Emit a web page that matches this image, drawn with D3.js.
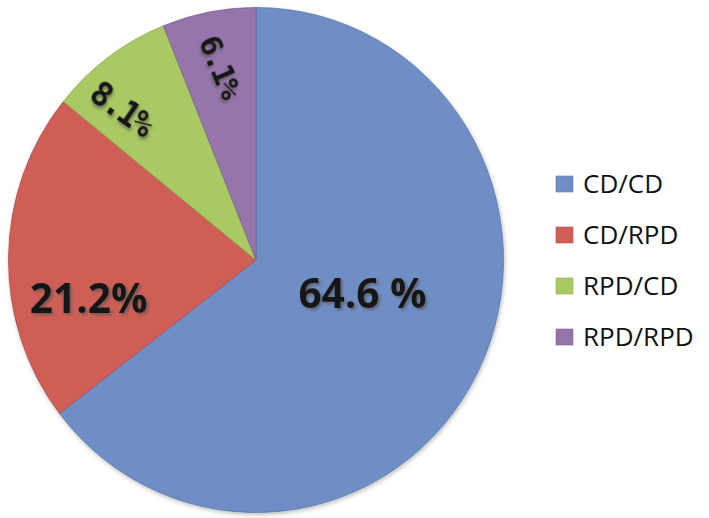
<!DOCTYPE html>
<html>
<head>
<meta charset="utf-8">
<script src="https://cdn.jsdelivr.net/npm/d3@7"></script>
<style>
  body { margin: 0; background: #fff; }
  svg { display: block; }
</style>
</head>
<body>
<div id="chart"></div>
<script>
const categories = ['CD/CD', 'CD/RPD', 'RPD/CD', 'RPD/RPD'];
const values = [64.6, 21.2, 8.1, 6.1];
const labels = ['64.6 %', '21.2%', '8.1%', '6.1%'];
const colors = ['#6f8ec6', '#cf5f57', '#a9c962', '#9574ac'];

const WIDTH = 709;
const HEIGHT = 518;
const CENTER = { X: 256, Y: 260 };
const RADIUS = 250;

const svg = d3.select('#chart')
    .append('svg')
    .attr('width', WIDTH)
    .attr('height', HEIGHT);

const defs = svg.append('defs');
defs.append('filter')
    .attr('id', 'txtShadow')
    .attr('x', '-20%').attr('y', '-20%')
    .attr('width', '140%').attr('height', '140%')
    .append('feDropShadow')
    .attr('dx', 2).attr('dy', 2)
    .attr('stdDeviation', 1.5)
    .attr('flood-color', '#555')
    .attr('flood-opacity', 0.7);

defs.append('filter')
    .attr('id', 'pieShadow')
    .attr('x', '-10%').attr('y', '-10%')
    .attr('width', '120%').attr('height', '120%')
    .append('feDropShadow')
    .attr('dx', 1).attr('dy', 2)
    .attr('stdDeviation', 2)
    .attr('flood-color', '#000')
    .attr('flood-opacity', 0.25);

const color = d3.scaleOrdinal().domain(categories).range(colors);

const pie = d3.pie()
    .value((d) => d.value)
    .sort(null);

const data = categories.map((c, i) => ({ name: c, value: values[i], label: labels[i] }));
const arcs = pie(data);

const arc = d3.arc().innerRadius(0).outerRadius(RADIUS);

const g = svg.append('g')
    .attr('transform', `translate(${CENTER.X}, ${CENTER.Y}) scale(0.99, 1.01)`);

g.append('g')
    .attr('filter', 'url(#pieShadow)')
    .selectAll('path')
    .data(arcs)
    .join('path')
    .attr('d', arc)
    .attr('fill', (d) => color(d.data.name))
    .attr('stroke', (d) => d3.color(color(d.data.name)).darker(0.5))
    .attr('stroke-width', 0.8);

// label placement: radius fraction, nudge, rotation, font
const labelStyle = [
    { r: 0.48, rot: 0, font: '"Open Sans", sans-serif', size: 41, ls: 0, dx: 0, dy: -20 },
    { r: 0.72, rot: 0, font: '"Open Sans", sans-serif', size: 41, ls: 0, dx: 11, dy: 40 },
    { r: 0.78, rot: 35, font: '"DejaVu Sans Mono", monospace', size: 33, ls: -3, dx: -20, dy: 6 },
    { r: 0.8, rot: 67, font: '"DejaVu Sans Mono", monospace', size: 31, ls: -3, dx: 2, dy: 4 },
];

const labelPos = (d, i) => {
    const a = (d.startAngle + d.endAngle) / 2;
    const r = RADIUS * labelStyle[i].r;
    return [Math.sin(a) * r + labelStyle[i].dx, -Math.cos(a) * r + labelStyle[i].dy];
};

g.append('g')
    .selectAll('text')
    .data(arcs)
    .join('text')
    .attr('transform', (d, i) => {
        const [x, y] = labelPos(d, i);
        return `translate(${x}, ${y}) rotate(${labelStyle[i].rot})`;
    })
    .attr('text-anchor', 'middle')
    .attr('dy', '0.36em')
    .attr('font-family', (d, i) => labelStyle[i].font)
    .attr('font-size', (d, i) => labelStyle[i].size)
    .attr('letter-spacing', (d, i) => labelStyle[i].ls)
    .attr('font-weight', 'bold')
    .attr('fill', '#161616')
    .attr('filter', 'url(#txtShadow)')
    .text((d) => d.data.label);

const legend = svg.append('g')
    .attr('transform', 'translate(556, 184)');

const legendY = d3.scalePoint().domain(categories).range([0, 153]);

const item = legend.selectAll('g')
    .data(categories)
    .join('g')
    .attr('transform', (d) => `translate(0, ${legendY(d)})`);

item.append('rect')
    .attr('x', 0)
    .attr('y', -8)
    .attr('width', 17)
    .attr('height', 16)
    .attr('fill', (d) => color(d))
    .attr('stroke', (d) => d3.color(color(d)).darker(0.4))
    .attr('stroke-width', 0.6);

item.append('text')
    .attr('x', 27)
    .attr('dy', '0.36em')
    .attr('font-family', '"Open Sans", sans-serif')
    .attr('font-size', 26)
    .attr('fill', '#111')
    .text((d) => d);
</script>
</body>
</html>
